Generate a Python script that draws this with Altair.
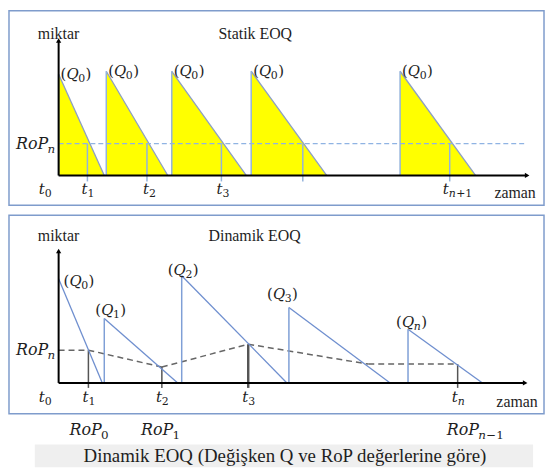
import altair as alt
import pandas as pd

# ---------------- data: Statik EOQ panel (time, quantity units) ----------------
s_cycle = ["c1", "c2", "c3", "c4", "c5"]
s_start = [0, 48, 114, 194, 344]
s_end = [46, 110, 189, 270, 420]
s_peak = [102, 105, 105, 105, 105]
s_rop = 32
s_drop = [29, 89, 164, 246, 394]
s_qsub = ["0", "0", "0", "0", "0"]
s_tsub = ["0", "1", "2", "3", "n+1"]
s_tlabel_t = [-20, 23, 85, 159, 387]

# ---------------- data: Dinamik EOQ panel ----------------
d_start = [0, 46, 124, 232, 352]
d_end = [44, 120, 230, 334, 427]
d_peak = [105, 65, 108, 76, 54]
d_qsub = ["0", "1", "2", "3", "n"]
d_qlabel_t = [5, 37, 110, 210, 340]
d_qlabel_q = [103, 73, 114, 90, 61]
d_rop_t = [0, 30, 104, 191, 312, 402]
d_rop_q = [33, 33, 16, 39, 19, 19]
d_drop_t = [30, 104, 191, 402]
d_drop_q = [33, 16, 39, 19]
d_drop_w = [1.5, 1.5, 2.5, 1.5]
d_tsub = ["0", "1", "2", "3", "n"]
d_tlabel_t = [-20, 24, 98, 185, 396]
d_ropsub = ["0", "1", "n\u22121"]
d_roplabel_t = [11, 83, 391]

caption = "Dinamik EOQ (Değişken Q ve RoP değerlerine göre)"

SERIF = "Liberation Serif, Times New Roman, serif"
MATH = "DejaVu Serif, serif"
FRAME = "#7f9ccc"
TXT = "#1e1e1e"
W = 539
XDOM = [-50, 489]

# approximate DejaVu Serif advance widths (em)
EM = {"(": 0.39, ")": 0.39, "Q": 0.79, "t": 0.40, "R": 0.72, "o": 0.60, "P": 0.66,
      "n": 0.64, "+": 0.84, "\u2212": 0.84}


def text_w(s, size):
    return sum(EM.get(ch, 0.636) for ch in s) * size


def xs():
    return alt.Scale(domain=XDOM, nice=False, zero=False)


def enc_xy(ydom, x="t", y="q"):
    return dict(
        x=alt.X(f"{x}:Q", scale=xs(), axis=None),
        y=alt.Y(f"{y}:Q", scale=alt.Scale(domain=ydom, nice=False, zero=False), axis=None),
    )


def seg_layer(df, ydom, color, width=1.5, dash=None):
    kw = dict(color=color, strokeWidth=width)
    if dash:
        kw["strokeDash"] = dash
    return alt.Chart(df).mark_rule(**kw).encode(
        x=alt.X("x:Q", scale=xs(), axis=None),
        x2="x2:Q",
        y=alt.Y("y:Q", scale=alt.Scale(domain=ydom, nice=False, zero=False), axis=None),
        y2="y2:Q",
    )


def text_layer(df, ydom, font, size, italic=False, align="left", dy=0, field="label"):
    kw = dict(align=align, baseline="middle", font=font, fontSize=size, color=TXT)
    if italic:
        kw["fontStyle"] = "italic"
    if dy:
        kw["dy"] = dy
    return alt.Chart(df).mark_text(**kw).encode(text=f"{field}:N", **enc_xy(ydom))


def math_layers(ts, qs, labels, ydom, size=15):
    """labels: list of lists of (text, italic, is_sub) pieces, laid out left to right."""
    sub_size = round(size * 0.72)
    rows = []
    for t, q, pieces in zip(ts, qs, labels):
        x = t
        for txt, it, sb in pieces:
            sz = sub_size if sb else size
            rows.append({"t": x, "q": q, "label": txt, "it": it, "sb": sb})
            x += text_w(txt, sz) + (0.5 if sb else 0)
    df = pd.DataFrame(rows)
    out = []
    for it in (True, False):
        for sb in (True, False):
            part = df[(df["it"] == it) & (df["sb"] == sb)]
            if part.empty:
                continue
            kw = dict(align="left", baseline="middle", font=MATH,
                      fontSize=sub_size if sb else size, color=TXT)
            if it:
                kw["fontStyle"] = "italic"
            if sb:
                kw["dy"] = 5
            out.append(alt.Chart(part).mark_text(**kw).encode(text="label:N", **enc_xy(ydom)))
    return out


def sub_pieces(s):
    if s.isdigit():
        return [(s, False, True)]
    return [(s[0], True, True)] + ([(s[1:], False, True)] if len(s) > 1 else [])


def q_label(s):
    return [("(", False, False), ("Q", True, False)] + sub_pieces(s) + [(")", False, False)]


def t_label(s):
    return [("t", True, False)] + sub_pieces(s)


def rop_label(s):
    return [("RoP", True, False)] + sub_pieces(s)


def axes_layers(ydom, ytop, xend):
    ax = pd.DataFrame({"x": [0, 0], "x2": [0, xend], "y": [0, 0], "y2": [ytop, 0]})
    rules = seg_layer(ax, ydom, "black", 2)
    up = alt.Chart(pd.DataFrame({"t": [0], "q": [ytop]})).mark_point(
        shape="triangle-up", filled=True, size=28, color="black", opacity=1
    ).encode(**enc_xy(ydom))
    right = alt.Chart(pd.DataFrame({"t": [xend], "q": [0]})).mark_point(
        shape="triangle-right", filled=True, size=28, color="black", opacity=1
    ).encode(**enc_xy(ydom))
    return [rules, up, right]


# ================= Panel 1: Statik EOQ =================
Y1 = [-30, 166]
tri_rows = []
for c, a, b, p in zip(s_cycle, s_start, s_end, s_peak):
    tri_rows.append({"cycle": c, "t": a, "q": p})
    tri_rows.append({"cycle": c, "t": b, "q": 0})
tri = pd.DataFrame(tri_rows)
area1 = alt.Chart(tri).mark_area(color="#ffff00", opacity=1).encode(
    y2=alt.datum(0), detail="cycle:N", **enc_xy(Y1)
)
hyp1 = pd.DataFrame({"x": s_start, "x2": s_end, "y": s_peak, "y2": [0] * 5})
vert1 = pd.DataFrame({"x": s_start, "x2": s_start, "y": [0] * 5, "y2": s_peak})
drop1 = pd.DataFrame({"x": s_drop, "x2": s_drop, "y": [s_rop] * 5, "y2": [-6] * 5})
rop1 = pd.DataFrame({"x": [0], "x2": [471], "y": [s_rop], "y2": [s_rop]})

plain1 = pd.DataFrame({"t": [-21, 161, 439], "q": [142, 142, -18],
                       "label": ["miktar", "Statik EOQ", "zaman"]})

panel1 = alt.layer(
    area1,
    seg_layer(hyp1, Y1, "#8c9fc4", 1.3),
    seg_layer(vert1, Y1, "#93b3dc", 1.5),
    seg_layer(rop1, Y1, "#8fb3e3", 1.2, [5, 3]),
    seg_layer(drop1, Y1, "#93b3dc", 1.5),
    *axes_layers(Y1, 136, 472),
    *math_layers([a + 2 for a in s_start], s_peak, [q_label(s) for s in s_qsub], Y1, 15),
    *math_layers(s_tlabel_t, [-14] * 5, [t_label(s) for s in s_tsub], Y1, 15),
    *math_layers([-43], [s_rop], [rop_label("n")], Y1, 16),
    text_layer(plain1, Y1, SERIF, 16),
).properties(width=W, height=196, view=alt.ViewBackground(stroke=FRAME, strokeWidth=1.5))

# ================= Panel 2: Dinamik EOQ =================
Y2 = [-31, 169]
hyp2 = pd.DataFrame({"x": d_start, "x2": d_end, "y": d_peak, "y2": [0] * 5})
vert2 = pd.DataFrame({"x": d_start[1:], "x2": d_start[1:], "y": [0] * 4, "y2": d_peak[1:]})
rop2 = pd.DataFrame({"x": d_rop_t[:-1], "x2": d_rop_t[1:], "y": d_rop_q[:-1], "y2": d_rop_q[1:]})
drop2 = pd.DataFrame({"x": d_drop_t, "x2": d_drop_t, "y": d_drop_q, "y2": [-5] * 4, "w": d_drop_w})
drop2_layer = alt.Chart(drop2).mark_rule(color="#555555").encode(
    x=alt.X("x:Q", scale=xs(), axis=None),
    x2="x2:Q",
    y=alt.Y("y:Q", scale=alt.Scale(domain=Y2, nice=False, zero=False), axis=None),
    y2="y2:Q",
    strokeWidth=alt.StrokeWidth("w:Q", scale=None, legend=None),
)
plain2 = pd.DataFrame({"t": [-21, 151, 441], "q": [148, 148, -19],
                       "label": ["miktar", "Dinamik EOQ", "zaman"]})

panel2 = alt.layer(
    seg_layer(rop2, Y2, "#666666", 1.5, [6, 4]),
    drop2_layer,
    seg_layer(hyp2, Y2, "#6f8fcf", 1.3),
    seg_layer(vert2, Y2, "#7f9fd6", 1.5),
    *axes_layers(Y2, 133, 470),
    *math_layers(d_qlabel_t, d_qlabel_q, [q_label(s) for s in d_qsub], Y2, 15),
    *math_layers(d_tlabel_t, [-14] * 5, [t_label(s) for s in d_tsub], Y2, 15),
    *math_layers([-43] + d_roplabel_t, [33, -47, -47, -47],
                 [rop_label(s) for s in ["n"] + d_ropsub], Y2, 16),
    text_layer(plain2, Y2, SERIF, 16),
).properties(width=W, height=200, view=alt.ViewBackground(stroke=FRAME, strokeWidth=1.5))

# ================= Caption =================
cap_df = pd.DataFrame({"label": [caption]})
cap_box = alt.Chart(cap_df).mark_rect(color="#efefef").encode(
    x=alt.value(26), x2=alt.value(528), y=alt.value(21), y2=alt.value(44)
)
cap_text = alt.Chart(cap_df).mark_text(
    font=SERIF, fontSize=19, color=TXT, align="center", baseline="middle"
).encode(text="label:N", x=alt.value(278), y=alt.value(33))
panel3 = alt.layer(cap_box, cap_text).properties(
    width=W, height=46, view=alt.ViewBackground(strokeOpacity=0)
)

chart = alt.vconcat(panel1, panel2, panel3, spacing=10, bounds="flush").properties(
    padding=0, background="white"
)

chart.save("out.html", embed_options={"renderer": "svg", "actions": False})
